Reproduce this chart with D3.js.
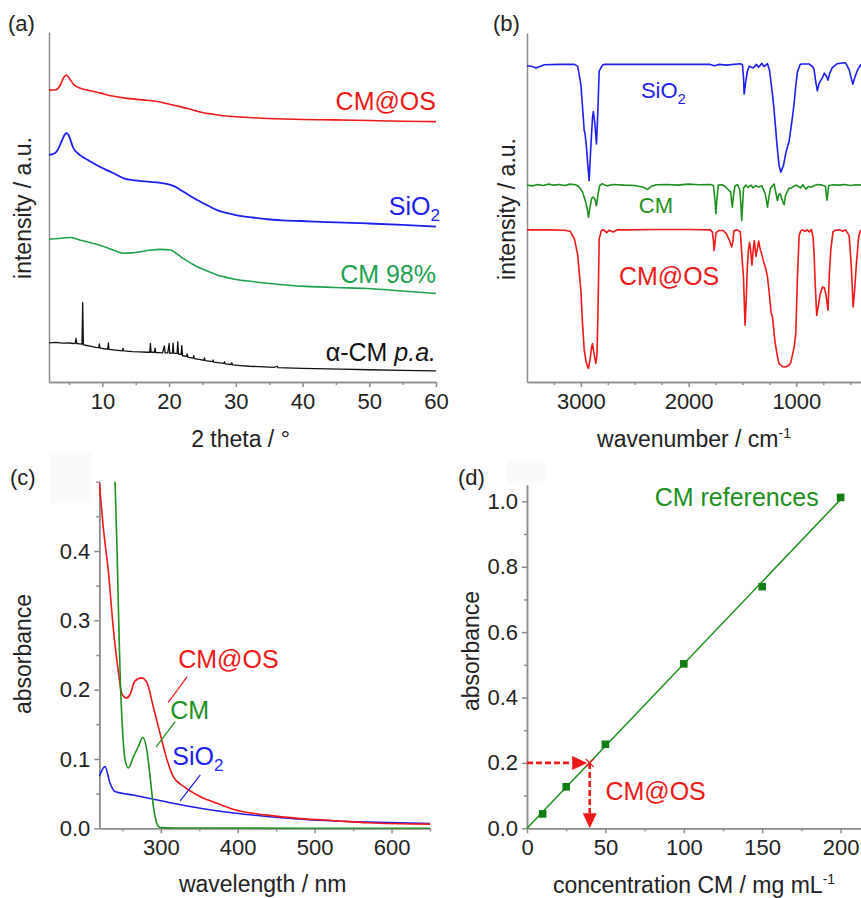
<!DOCTYPE html>
<html>
<head>
<meta charset="utf-8">
<script src="https://cdn.jsdelivr.net/npm/d3@7"></script>
<style>
  body { margin: 0; background: #fff; }
  svg text { font-family: "Liberation Sans", Arial, sans-serif; }
</style>
</head>
<body>
<div id="chart"></div>
<script>
// ---------- data ----------
// (a) XRD, [2theta, intensity a.u.]
var xrdCMOS = [[2.0,83.4],[3.0,83.5],[3.6,84.5],[4.2,87.0],[4.6,87.7],[5.1,86.6],[5.8,84.8],[6.6,84.0],[8.0,83.3],[9.6,82.6],[11.5,81.7],[13.4,81.1],[16,80.6],[18,80.2],[20.2,79.3],[21.8,78.6],[23.2,77.9],[25,77.0],[26.6,76.5],[28.5,76.0],[30,75.8],[32.5,75.5],[34.7,75.3],[40,75.0],[44.6,74.9],[50,74.7],[55,74.5],[60,74.4]];
var xrdSiO2 = [[2.0,64.9],[2.8,65.3],[3.3,66.3],[3.9,68.8],[4.4,70.8],[4.7,71.1],[5.1,69.8],[5.6,67.0],[6.6,64.9],[8.0,63.2],[9.6,61.5],[11.5,59.8],[13.2,58.2],[15.0,57.6],[17.2,57.2],[19,56.8],[20.2,56.3],[21.2,55.5],[22.1,54.4],[23.3,53.0],[24.7,51.5],[26,50.2],[27.2,49.1],[28.6,48.3],[30,47.7],[32.5,47.0],[34.7,46.5],[37,46.2],[39.7,46.0],[45,45.6],[49.7,45.3],[55,44.9],[60,44.4]];
var xrdCM98 = [[2.0,40.8],[3.5,41.0],[5.2,41.3],[6.6,40.6],[8.0,39.9],[9.6,39.1],[11.5,37.8],[13.1,36.8],[14.5,36.9],[15.7,37.2],[17.3,37.7],[18.7,37.9],[20.2,37.7],[21.2,36.6],[22.1,35.3],[23.4,33.8],[24.7,32.5],[26,31.5],[27.2,30.6],[28.6,29.9],[30,29.3],[32.5,28.7],[34.7,28.2],[37,27.8],[39.7,27.4],[45,27.0],[49.7,26.7],[55,26.0],[60,25.3]];
var xrdAlphaCM = [[2.0,11.2],[3.0,11.3],[4.0,11.1],[5.0,11.2],[5.6,11.0],[5.95,11.1],[6.05,12.5],[6.15,11.0],[6.6,10.9],[6.95,10.8],[7.05,22.7],[7.15,10.6],[7.5,10.5],[8.3,10.2],[9.0,9.9],[9.45,9.8],[9.55,10.9],[9.65,9.7],[10.3,9.5],[10.8,9.4],[10.9,11.2],[11.0,9.3],[12.0,9.1],[13.0,8.9],[13.1,9.6],[13.2,8.9],[14.5,8.7],[15.5,8.6],[16.7,8.5],[17.1,8.5],[17.2,11.0],[17.3,8.5],[17.8,8.5],[17.9,9.7],[18.0,8.4],[18.6,8.4],[19.0,8.3],[19.3,10.3],[19.4,8.3],[19.8,8.3],[20.0,11.0],[20.1,8.2],[20.5,8.3],[20.6,11.1],[20.7,8.2],[21.2,8.2],[21.3,11.5],[21.4,8.0],[21.8,7.9],[21.9,10.4],[22.0,7.5],[22.6,7.3],[22.7,8.0],[22.8,7.1],[23.6,6.8],[23.7,7.5],[23.8,6.7],[24.7,6.4],[25.2,6.2],[25.3,6.9],[25.4,6.1],[26.5,5.8],[26.6,6.3],[26.7,5.7],[28.2,5.3],[28.3,5.8],[28.4,5.2],[29.3,5.0],[29.4,5.5],[29.5,4.9],[30.7,4.7],[32,4.5],[33.5,4.4],[35.7,4.2],[36.2,4.5],[36.3,4.1],[40,3.9],[45.7,3.7],[50,3.5],[55,3.35],[60,3.2]];
var xrdTicks = [10,20,30,40,50,60];
var xrdMinor = [5,15,25,35,45,55];

// (b) IR, [wavenumber, intensity a.u.]
var irSiO2 = [[3500,90.6],[3450,90.4],[3417,90.0],[3380,90.4],[3340,90.9],[3200,91.0],[3060,91.0],[3030,90.5],[3000,85.3],[2985,79],[2969,72],[2963,71.5],[2950,68],[2935,62],[2923,57.7],[2910,66],[2892,75.8],[2884,77.5],[2870,74],[2855,68.2],[2842,78],[2830,89.1],[2800,90.8],[2783,91.0],[2400,91.0],[1800,91.0],[1760,90.6],[1720,91.0],[1650,90.8],[1520,91.2],[1500,90.9],[1490,87],[1485,82.5],[1470,86],[1455,89],[1438,90.5],[1400,90.0],[1370,91.0],[1350,90.2],[1320,91.3],[1300,90.4],[1268,91.2],[1250,89.5],[1237,86.3],[1220,82],[1206,77.7],[1180,68],[1160,62],[1144,60.1],[1120,62],[1095,66],[1067,69],[1040,75],[1020,80],[1005,85],[990,88.8],[965,91.0],[943,91.1],[880,91.1],[850,90.4],[836,89.6],[820,86],[805,83.4],[790,85.5],[758,87.2],[740,88.5],[727,88],[706,86.5],[690,88.5],[666,90.1],[620,91.2],[560,91.5],[542,91.4],[510,89.5],[490,87],[476,85.3],[455,87.5],[430,89.5],[402,91]];
var irCM = [[3500,56.4],[3450,56.2],[3400,56.6],[3350,56.3],[3300,56.7],[3250,56.4],[3200,56.6],[3150,56.3],[3100,56.7],[3050,56.5],[3020,56.0],[2985,54.5],[2960,52.1],[2940,49.5],[2929,47.2],[2915,50],[2900,52.6],[2885,53],[2870,52.4],[2855,50.5],[2840,54],[2825,56.3],[2800,56.8],[2760,56.2],[2700,56.6],[2600,56.4],[2500,56.3],[2420,55.8],[2381,55.2],[2350,56],[2300,56.5],[2200,56.6],[2100,56.4],[2000,56.7],[1900,56.5],[1800,56.6],[1770,56.3],[1755,52],[1747,48.2],[1738,52],[1725,56.4],[1690,56.5],[1660,56.0],[1630,55],[1610,54.5],[1600,51.5],[1594,50.1],[1585,53],[1570,56.2],[1545,56.5],[1525,55],[1515,51],[1507,46.3],[1500,50],[1490,55.6],[1470,56.4],[1450,55.8],[1420,56.4],[1400,55.6],[1380,56.3],[1350,55.9],[1320,56.2],[1290,54],[1275,51.5],[1268,50.1],[1255,53],[1240,55.5],[1220,56.3],[1206,56.7],[1195,55],[1180,52.5],[1175,52],[1165,53.5],[1150,54],[1135,52.5],[1120,51.2],[1113,50.8],[1100,53.5],[1085,54.5],[1070,55.5],[1050,55.5],[1030,56],[1000,56.4],[960,55.6],[940,56.5],[910,55.2],[890,56],[860,55.8],[840,56.2],[800,56.6],[760,56.4],[730,56.1],[720,53],[715,52.1],[710,53.5],[700,56.3],[650,56.5],[600,56.4],[550,56.6],[500,56.3],[450,56.5],[400,56.4]];
var irCMOS = [[3500,43.6],[3300,43.6],[3150,43.5],[3100,43.2],[3060,41],[3030,36.5],[3000,26.3],[2985,17],[2969,9.1],[2950,5.5],[2935,4.2],[2929,3.9],[2915,6.5],[2900,10],[2892,11],[2880,8.5],[2861,5.3],[2850,8],[2840,22],[2830,41],[2810,43.4],[2790,43.6],[2760,42.8],[2740,43.5],[2700,43],[2660,43.6],[2600,43.6],[2300,43.7],[2000,43.7],[1800,43.6],[1780,43],[1770,40.5],[1763,37.7],[1755,40],[1745,42.8],[1720,43.4],[1680,43.4],[1650,42.5],[1620,40.5],[1600,38.7],[1590,40],[1580,43.3],[1550,43.6],[1520,43],[1505,36],[1491,30],[1476,16.3],[1465,24],[1455,33],[1445,37.7],[1435,40],[1425,38],[1412,33.5],[1400,38],[1390,40.5],[1375,36],[1360,38.5],[1350,40.4],[1335,38],[1320,36.5],[1300,34],[1280,32],[1268,30.1],[1250,25],[1235,20],[1222,18.7],[1200,12],[1190,10],[1175,7.2],[1160,5.2],[1128,4.4],[1100,4.3],[1070,4.8],[1051,5.6],[1035,8],[1020,10],[1005,14],[990,30],[974,42],[960,43.3],[943,43.6],[920,43.2],[900,43.6],[880,43],[860,43.7],[845,41.5],[836,37],[825,28],[811,19.1],[800,21],[780,25],[758,27.2],[740,27],[725,25],[706,20.6],[695,30],[680,38],[660,43],[640,43.5],[600,43.6],[570,43.2],[545,43.6],[510,42],[490,33],[473,21.5],[460,26],[440,35],[420,42],[402,43.6]];
var irTicks = [3000,2000,1000];
var irMinor = [3250,2750,2500,2250,1750,1500,1250,750,500];

// (c) UV-vis, [wavelength nm, absorbance]
var uvCMOS = [[220,0.498],[225,0.436],[232,0.368],[238,0.291],[245,0.224],[249,0.195],[255,0.188],[260,0.193],[266,0.212],[275,0.217],[282,0.210],[290,0.176],[299,0.137],[308,0.099],[316,0.075],[330,0.060],[351,0.046],[373,0.036],[395,0.027],[438,0.019],[482,0.014],[525,0.011],[569,0.008],[650,0.006]];
var uvCM = [[238,0.56],[240.5,0.50],[242.7,0.417],[244.8,0.320],[247,0.224],[250.5,0.137],[253.5,0.099],[257.8,0.087],[264.3,0.103],[270.8,0.118],[276.6,0.131],[281.8,0.113],[286,0.075],[290.4,0.031],[294.8,0.007],[299,0.001],[320,0.0005],[650,0.0]];
var uvSiO2 = [[220,0.075],[227.4,0.089],[234,0.065],[240.5,0.053],[264,0.048],[308,0.038],[351,0.029],[395,0.022],[438,0.017],[482,0.013],[569,0.009],[650,0.007]];
var uvTicks = [300,400,500,600];
var uvMinor = [250,350,450,550,650];
var uvYTicks = [0,0.1,0.2,0.3,0.4];
var uvYMinor = [0.05,0.15,0.25,0.35,0.45,0.5];

// (d) calibration
var calConc = [10,25,50,100,150,200];
var calAbs = [0.044,0.127,0.257,0.503,0.739,1.012];
var calFit = [[0,0],[200,1.006]];
var sampleAbs = 0.2, sampleConc = 40;
var calXTicks = [0,50,100,150,200];
var calXMinor = [25,75,125,175];
var calYTicks = [0,0.2,0.4,0.6,0.8,1.0];
var calYMinor = [0.1,0.3,0.5,0.7,0.9];

// ---------- styling ----------
var FONT = '"Liberation Sans", Arial, sans-serif';
var AXIS = "#8c8c8c", TXT = "#222";
var RED = "#f01818", BLUE = "#1e1ef0", GREEN_A = "#22a150", GREEN = "#1d901d", GREEN_D = "#127d12";

var svg = d3.select("#chart").append("svg").attr("width", 861).attr("height", 898);

function styleAxis(sel) {
  sel.attr("font-family", FONT).attr("font-size", 22);
  sel.selectAll("path,line").attr("stroke", AXIS).attr("stroke-width", 1.5);
  sel.selectAll("text").attr("fill", TXT);
}

function makePanel(p) {
  var x = d3.scaleLinear().domain(p.xDomain).range([p.left, p.right]);
  var y = d3.scaleLinear().domain(p.yDomain).range([p.bottom, p.top]);
  var g = svg.append("g");

  g.append("g").attr("transform", "translate(0," + p.bottom + ")")
    .call(d3.axisBottom(x).tickValues(p.xMinor).tickSize(3).tickSizeOuter(0).tickFormat(""))
    .call(styleAxis);
  g.append("g").attr("transform", "translate(0," + p.bottom + ")")
    .call(d3.axisBottom(x).tickValues(p.xTicks).tickSize(5).tickPadding(6).tickSizeOuter(0).tickFormat(p.xFormat || d3.format("d")))
    .call(styleAxis);

  if (p.yTicks) {
    g.append("g").attr("transform", "translate(" + p.left + ",0)")
      .call(d3.axisLeft(y).tickValues(p.yMinor).tickSize(3).tickSizeOuter(0).tickFormat(""))
      .call(styleAxis);
    g.append("g").attr("transform", "translate(" + p.left + ",0)")
      .call(d3.axisLeft(y).tickValues(p.yTicks).tickSize(5).tickPadding(4).tickSizeOuter(0).tickFormat(d3.format(".1f")))
      .call(styleAxis);
  } else {
    g.append("g").attr("transform", "translate(" + p.left + ",0)")
      .call(d3.axisLeft(y).tickValues([]).tickSizeOuter(0))
      .call(styleAxis);
  }

  // panel letter
  if (p.box) {
    g.append("rect").attr("x", p.box[0]).attr("y", p.box[1]).attr("width", p.box[2]).attr("height", p.box[3])
      .attr("fill", "#fafafa");
  }
  g.append("text").attr("x", p.letterPos[0]).attr("y", p.letterPos[1])
    .attr("font-size", 22).attr("fill", TXT).text(p.letter);

  // axis titles
  var xt = g.append("text").attr("x", (p.left + p.right) / 2 + (p.xTitleShift || 0)).attr("y", p.xTitleY)
    .attr("text-anchor", "middle").attr("font-size", 23).attr("fill", TXT).text(p.xTitle);
  if (p.xTitleSup) {
    xt.append("tspan").attr("dy", -9).attr("font-size", 14).text(p.xTitleSup);
  }
  g.append("text").attr("transform", "translate(" + p.yTitleX + "," + p.yTitleY + ") rotate(-90)")
    .attr("text-anchor", "middle").attr("font-size", 23).attr("fill", TXT).text(p.yTitle);

  return { g: g, x: x, y: y };
}

function drawLine(panel, data, color, width, curve) {
  var line = d3.line().x(function(d) { return panel.x(d[0]); }).y(function(d) { return panel.y(d[1]); })
    .curve(curve || d3.curveLinear);
  return panel.g.append("path").datum(data).attr("d", line)
    .attr("fill", "none").attr("stroke", color).attr("stroke-width", width).attr("stroke-linejoin", "round");
}

function label(panel, lx, ly, color, size, anchor, parts) {
  var t = panel.g.append("text").attr("x", panel.x(lx)).attr("y", panel.y(ly))
    .attr("fill", color).attr("font-size", size).attr("text-anchor", anchor || "start");
  parts.forEach(function(pt) {
    var s = t.append("tspan").text(pt.t);
    if (pt.sub) s.attr("dy", 6).attr("font-size", size * 0.68);
    if (pt.it) s.attr("font-style", "italic");
  });
  return t;
}

// ---------- (a) XRD ----------
var pa = makePanel({
  xDomain: [2, 60], yDomain: [0, 100], left: 49, right: 436, top: 32, bottom: 382,
  xTicks: xrdTicks, xMinor: xrdMinor,
  letter: "(a)", letterPos: [8, 31],
  xTitle: "2 theta / \u00b0", xTitleY: 447, xTitleShift: -2,
  yTitle: "intensity / a.u.", yTitleX: 31, yTitleY: 208
});
drawLine(pa, xrdCMOS, RED, 1.6, d3.curveMonotoneX);
drawLine(pa, xrdSiO2, BLUE, 1.8, d3.curveMonotoneX);
drawLine(pa, xrdCM98, GREEN_A, 1.6, d3.curveMonotoneX);
drawLine(pa, xrdAlphaCM, "#111", 1.3);
label(pa, 60, 77.7, RED, 25, "end", [{ t: "CM@OS" }]);
label(pa, 60.6, 47.7, BLUE, 25, "end", [{ t: "SiO" }, { t: "2", sub: true }]);
label(pa, 60, 28.3, GREEN_A, 25, "end", [{ t: "CM 98%" }]);
label(pa, 60, 6.1, "#111", 25, "end", [{ t: "\u03b1-CM " }, { t: "p.a.", it: true }]);

// ---------- (b) IR ----------
var pb = makePanel({
  xDomain: [3500, 400], yDomain: [0, 100], left: 527, right: 861, top: 33, bottom: 382,
  xTicks: irTicks, xMinor: irMinor,
  letter: "(b)", letterPos: [493, 31],
  xTitle: "wavenumber / cm", xTitleSup: "-1", xTitleY: 447, xTitleShift: 0,
  yTitle: "intensity / a.u.", yTitleX: 515, yTitleY: 209
});
drawLine(pb, irSiO2, BLUE, 1.6);
drawLine(pb, irCM, GREEN, 1.6);
drawLine(pb, irCMOS, RED, 1.6);
label(pb, 2443, 81.4, BLUE, 22, "start", [{ t: "SiO" }, { t: "2", sub: true }]);
label(pb, 2462, 48.3, GREEN, 22, "start", [{ t: "CM" }]);
label(pb, 2647, 27.7, RED, 25, "start", [{ t: "CM@OS" }]);

// ---------- (c) UV-vis ----------
var pc = makePanel({
  xDomain: [220, 650], yDomain: [0, 0.5], left: 99.3, right: 430, top: 481.7, bottom: 828.3,
  xTicks: uvTicks, xMinor: uvMinor, yTicks: uvYTicks, yMinor: uvYMinor,
  letter: "(c)", letterPos: [10, 485], box: [50, 453, 42, 50],
  xTitle: "wavelength / nm", xTitleY: 892, xTitleShift: -2,
  yTitle: "absorbance", yTitleX: 31, yTitleY: 654
});
pc.g.append("clipPath").attr("id", "clipC").append("rect")
  .attr("x", 99).attr("y", 481.7).attr("width", 332).attr("height", 347);
drawLine(pc, uvSiO2, BLUE, 1.6, d3.curveMonotoneX).attr("clip-path", "url(#clipC)");
drawLine(pc, uvCMOS, RED, 1.6, d3.curveMonotoneX).attr("clip-path", "url(#clipC)");
drawLine(pc, uvCM, GREEN, 1.6, d3.curveMonotoneX).attr("clip-path", "url(#clipC)");
label(pc, 322.6, 0.2316, RED, 25, "start", [{ t: "CM@OS" }]);
label(pc, 312.2, 0.158, GREEN, 25, "start", [{ t: "CM" }]);
label(pc, 314.8, 0.0915, BLUE, 25, "start", [{ t: "SiO" }, { t: "2", sub: true }]);
var uvLeaders = [
  { c: RED, a: [334.3, 0.2187], b: [309.5, 0.1812] },
  { c: GREEN, a: [318.7, 0.154], b: [293.9, 0.1176] },
  { c: BLUE, a: [351.3, 0.0771], b: [325.2, 0.0395] }
];
pc.g.selectAll("line.leader").data(uvLeaders).enter().append("line")
  .attr("x1", function(d) { return pc.x(d.a[0]); }).attr("y1", function(d) { return pc.y(d.a[1]); })
  .attr("x2", function(d) { return pc.x(d.b[0]); }).attr("y2", function(d) { return pc.y(d.b[1]); })
  .attr("stroke", function(d) { return d.c; }).attr("stroke-width", 1.2);

// ---------- (d) calibration ----------
var pd = makePanel({
  xDomain: [0, 213], yDomain: [0, 1.05], left: 527, right: 861, top: 485, bottom: 828.3,
  xTicks: calXTicks, xMinor: calXMinor, yTicks: calYTicks, yMinor: calYMinor,
  letter: "(d)", letterPos: [458, 485], box: [507, 460, 38, 24],
  xTitle: "concentration CM / mg mL", xTitleSup: "-1", xTitleY: 893, xTitleShift: 0,
  yTitle: "absorbance", yTitleX: 479, yTitleY: 651
});
drawLine(pd, calFit, GREEN, 1.5);
pd.g.selectAll("rect.pt").data(calConc).enter().append("rect")
  .attr("x", function(d) { return pd.x(d) - 3.8; })
  .attr("y", function(d, i) { return pd.y(calAbs[i]) - 3.8; })
  .attr("width", 7.6).attr("height", 7.6).attr("fill", GREEN_D);

// dashed read-off arrows
var arrows = [
  { from: [0, sampleAbs], to: [sampleConc - 1.6, sampleAbs] },
  { from: [sampleConc, sampleAbs], to: [sampleConc, 0] }
];
arrows.forEach(function(a) {
  var x1 = pd.x(a.from[0]), y1 = pd.y(a.from[1]), x2 = pd.x(a.to[0]), y2 = pd.y(a.to[1]);
  var dx = x2 - x1, dy = y2 - y1, len = Math.sqrt(dx * dx + dy * dy);
  var ux = dx / len, uy = dy / len, hl = 15, hw = 7;
  var bx = x2 - ux * hl, by = y2 - uy * hl;
  pd.g.append("line").attr("x1", x1).attr("y1", y1).attr("x2", bx).attr("y2", by)
    .attr("stroke", RED).attr("stroke-width", 2.6).attr("stroke-dasharray", "6,3");
  pd.g.append("path")
    .attr("d", "M" + x2 + "," + y2 + "L" + (bx - uy * hw) + "," + (by + ux * hw) + "L" + (bx + uy * hw) + "," + (by - ux * hw) + "Z")
    .attr("fill", RED);
});
var cx = pd.x(sampleConc), cy = pd.y(sampleAbs);
pd.g.append("path").attr("d", "M" + (cx - 4) + "," + (cy - 4) + "L" + (cx + 4) + "," + (cy + 4) + "M" + (cx - 4) + "," + (cy + 4) + "L" + (cx + 4) + "," + (cy - 4))
  .attr("stroke", RED).attr("stroke-width", 1.3);
label(pd, 186, 0.985, GREEN, 25, "end", [{ t: "CM references" }]);
label(pd, 50, 0.087, RED, 25, "start", [{ t: "CM@OS" }]);
</script>
</body>
</html>
